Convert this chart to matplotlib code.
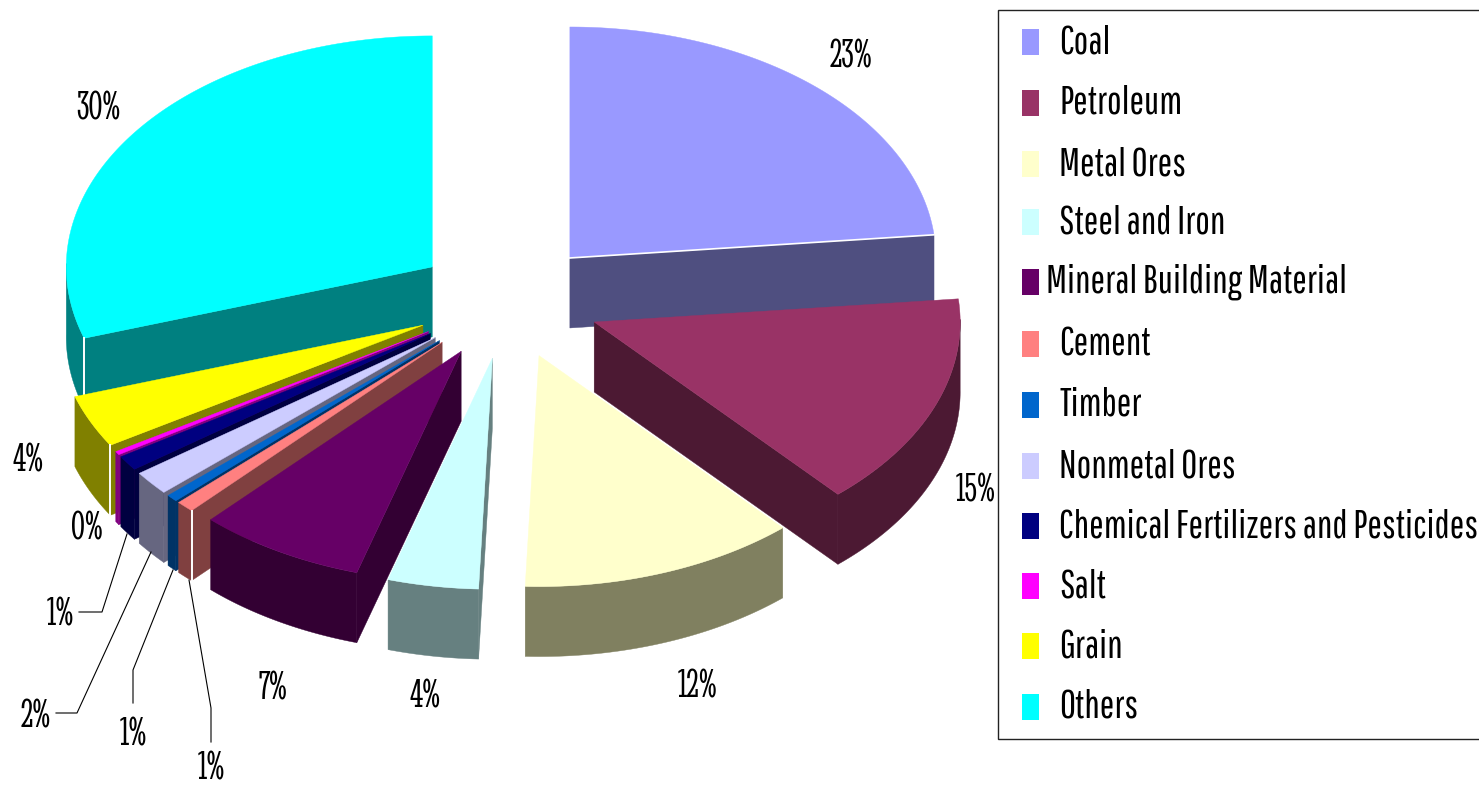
import numpy as np
import matplotlib
matplotlib.use("Agg")
import matplotlib.pyplot as plt
from matplotlib.patches import Polygon, Rectangle

categories = ["Coal", "Petroleum", "Metal Ores", "Steel and Iron", "Mineral Building Material",
              "Cement", "Timber", "Nonmetal Ores", "Chemical Fertilizers and Pesticides",
              "Salt", "Grain", "Others"]
shares = [23.4, 15.0, 12.2, 4.0, 7.4, 0.8, 0.5, 1.7, 1.05, 0.25, 3.7, 30.0]
pct_labels = ["23%", "15%", "12%", "4%", "7%", "1%", "1%", "2%", "1%", "0%", "4%", "30%"]
top_colors = ["#9999FF", "#993366", "#FFFFCC", "#CCFFFF", "#660066", "#FF8080",
              "#0066CC", "#CCCCFF", "#000080", "#FF00FF", "#FFFF00", "#00FFFF"]
side_colors = ["#4F4F80", "#4C1933", "#808060", "#668080", "#330033", "#804040",
               "#003366", "#666680", "#000040", "#800080", "#808000", "#008080"]
label_pos = [(851, 57), (976, 492), (698, 687), (425, 698), (273, 689), (211, 770),
             (133, 735), (36, 717), (60, 616), (87, 529), (28, 462), (98, 110)]
leaders = {5: [(189, 580), (211, 708), (211, 742)],
           6: [(173, 570), (133, 670), (133, 703)],
           7: [(151, 552), (77, 713), (56, 713)],
           8: [(127, 534), (102, 612), (79, 612)]}
legend_baselines = [53, 114, 175, 233, 293, 355, 416, 477, 537, 597, 657, 718]
white_corners = [5, 10, 11]

CX, CY, RX, RY, EX, EY, DEPTH = 507.5, 301, 366, 231, 93, 58, 70

fig = plt.figure(figsize=(14.79, 7.86), dpi=100)
ax = fig.add_axes([0, 0, 1, 1])
ax.set_xlim(0, 1479)
ax.set_ylim(786, 0)
ax.axis("off")

total = sum(shares)
edges = np.cumsum([0] + shares) / total * 2 * np.pi
mids = (edges[:-1] + edges[1:]) / 2
order = np.argsort(-np.cos(mids))
DOWN = np.array([0, DEPTH])


def wall(points, color, z):
    pts = np.asarray(points)
    poly = np.vstack([pts, (pts + DOWN)[::-1]])
    ax.add_patch(Polygon(poly, closed=True, fc=color, ec=color, lw=0.3, zorder=z))


for rank, i in enumerate(order):
    z = 2 + rank * 0.1
    a0, a1, m = edges[i], edges[i + 1], mids[i]
    apex = np.array([CX + EX * np.sin(m), CY - EY * np.cos(m)])
    t = np.linspace(a0, a1, max(int((a1 - a0) * 80), 4))
    arc = np.column_stack([apex[0] + RX * np.sin(t), apex[1] - RY * np.cos(t)])
    # radial walls that face the viewer
    if arc[0, 0] - apex[0] < -1e-6:
        wall([apex, arc[0]], side_colors[i], z)
    if apex[0] - arc[-1, 0] < -1e-6:
        wall([arc[-1], apex], side_colors[i], z)
    # outer wall: the run of arc points that lies on the front half
    front = arc[np.cos(t) < 0.02]
    if len(front) > 1:
        wall(front, side_colors[i], z + 0.01)
    ax.add_patch(Polygon(np.vstack([apex, arc]), closed=True, fc=top_colors[i],
                         ec=top_colors[i], lw=0.3, zorder=z + 0.02))
    if i in white_corners:
        ax.plot([arc[0, 0]] * 2, [arc[0, 1], arc[0, 1] + DEPTH], color="white", lw=1.4, zorder=z + 0.03)
    if i == 0:
        ax.plot([apex[0], arc[-1, 0]], [apex[1], arc[-1, 1]], color="white", lw=1.2, zorder=z + 0.03)

serif = ["Stint Ultra Condensed", "Liberation Serif"]
for i, (x, y) in enumerate(label_pos):
    ax.text(x, y, pct_labels[i], ha="center", va="center", fontsize=30, family=serif,
            color="black", zorder=6)
for pts in leaders.values():
    arr = np.array(pts)
    ax.plot(arr[:, 0], arr[:, 1], color="black", lw=0.8, zorder=5)

ax.add_patch(Rectangle((998, 10), 490, 729, fc="white", ec="#222222", lw=1, zorder=1))
sans = ["Pathway Gothic One", "Archivo Narrow", "Liberation Sans"]
for i, name in enumerate(categories):
    b = legend_baselines[i]
    ax.add_patch(Rectangle((1022, b - 24), 17, 26, fc=top_colors[i], ec="none", zorder=4))
    tx = 1046 if i == 4 else 1059
    ax.text(tx, b, name, ha="left", va="baseline", fontsize=28, family=sans, color="black", zorder=4)
fig.savefig("out.png", dpi=100)
